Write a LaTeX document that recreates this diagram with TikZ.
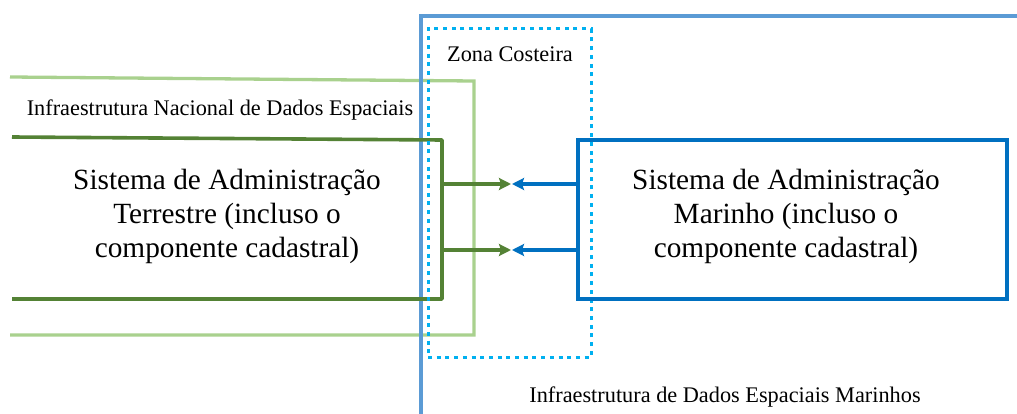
\documentclass[tikz,border=0pt]{standalone}
\usepackage{fontspec}
\setmainfont{Liberation Serif}
\usetikzlibrary{arrows.meta}
\definecolor{sdiblue}{HTML}{5B9BD5}
\definecolor{coast}{HTML}{00B0F0}
\definecolor{nsdigreen}{HTML}{A9D18E}
\definecolor{landgreen}{HTML}{548235}
\definecolor{marblue}{HTML}{0070C0}
\tikzset{
  frameline/.style={line width=3.3pt},
  bigtext/.style={align=center, inner sep=0pt, font=\fontsize{29.3}{34}\selectfont},
  labeltext/.style={inner sep=0pt, font=\fontsize{22.3}{25}\selectfont},
  linkarrow/.style={line width=3.3pt, -{Stealth[length=12pt,width=12pt,inset=2pt]}},
}
\begin{document}
\begin{tikzpicture}[x=1pt,y=-1pt]
\useasboundingbox (0,0) rectangle (1017,414);
% national SDI frame (light green, open to the left)
\coordinate (nsdiNW) at (10,77);
\coordinate (nsdiNE) at (474,81);
\coordinate (nsdiSE) at (474,335);
\coordinate (nsdiSW) at (10,335);
\draw[nsdigreen, frameline] (nsdiNW) -- (nsdiNE) -- (nsdiSE) -- (nsdiSW);
% marine SDI frame (blue, open)
\coordinate (msdiSW) at (421,414);
\coordinate (msdiNW) at (421,16);
\coordinate (msdiNE) at (1017,16);
\draw[sdiblue, frameline] (msdiSW) -- (msdiNW) -- (msdiNE);
% land administration system (dark green, open to the left)
\coordinate (landNW) at (12,137);
\coordinate (landNE) at (442,140);
\coordinate (landSE) at (442,299);
\coordinate (landSW) at (12,299);
\draw[landgreen, line width=3.6pt, line join=round] (landNW) -- (landNE) -- (landSE) -- (landSW);
% coastal zone
\node[draw=coast, line width=3pt, dash pattern=on 4pt off 4.7pt, minimum width=163pt, minimum height=328pt, inner sep=0pt] (coastzone) at (509.5,193) {};
% marine administration system
\node[draw=marblue, frameline, minimum width=429pt, minimum height=159pt, inner sep=0pt] (mar) at (792.5,219.5) {};
% texts
\node[labeltext] (zona) at (510,54) {Zona Costeira};
\node[labeltext] (nsdi) at (220,110) {Infraestrutura Nacional de Dados Espaciais};
\node[labeltext] (msdi) at (725,397) {Infraestrutura de Dados Espaciais Marinhos};
\node[bigtext] (landtxt) at (227,216) {Sistema de Administração\\Terrestre (incluso o\\componente cadastral)};
\node[bigtext] (martxt) at (786,216) {Sistema de Administração\\Marinho (incluso o\\componente cadastral)};
% arrows
\coordinate (landE1) at (442,184);
\coordinate (landE2) at (442,250);
\coordinate (g1) at (511,184);
\coordinate (g2) at (511,250);
\coordinate (b1) at (512,184);
\coordinate (b2) at (512,250);
\draw[landgreen, linkarrow] (landE1) -- (g1);
\draw[landgreen, linkarrow] (landE2) -- (g2);
\draw[marblue, linkarrow] (mar.west |- b1) -- (b1);
\draw[marblue, linkarrow] (mar.west |- b2) -- (b2);
\end{tikzpicture}
\end{document}
